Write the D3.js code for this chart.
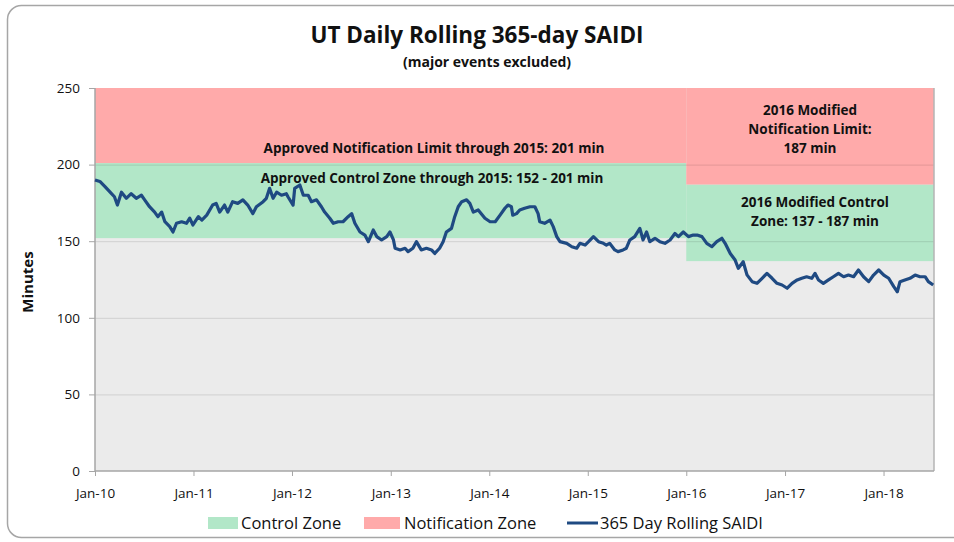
<html>
<head>
<script src="https://d3js.org/d3.v7.min.js"></script>
<style>
  body { margin: 0; background: #fff; }
  svg { display: block; }
  text { font-family: "Open Sans", sans-serif; fill: #111; }
</style>
</head>
<body>
<script>
// rolling 365-day SAIDI
var dates = ["2010-01-01","2010-01-19","2010-02-07","2010-02-26","2010-03-14","2010-03-25","2010-04-09","2010-04-27","2010-05-15","2010-06-03","2010-06-22","2010-07-04","2010-07-22","2010-08-10","2010-08-22","2010-09-05","2010-09-17","2010-10-05","2010-10-17","2010-10-30","2010-11-18","2010-12-06","2010-12-18","2010-12-30",
"2011-01-19","2011-02-01","2011-02-19","2011-03-13","2011-03-26","2011-04-08","2011-04-26","2011-05-08","2011-05-26","2011-06-14","2011-07-03","2011-07-21","2011-08-09","2011-08-22","2011-09-16","2011-09-28","2011-10-10","2011-10-23","2011-11-05","2011-11-23","2011-12-11","2011-12-17",
"2012-01-05","2012-01-11","2012-01-30","2012-02-12","2012-03-01","2012-03-13","2012-04-01","2012-04-19","2012-05-01","2012-05-20","2012-06-02","2012-06-20","2012-07-08","2012-07-27","2012-08-09","2012-08-21","2012-09-09","2012-09-27","2012-10-10","2012-10-28","2012-11-10","2012-11-28","2012-12-17","2012-12-29",
"2013-01-11","2013-01-17","2013-02-05","2013-02-23","2013-03-06","2013-03-24","2013-04-06","2013-04-24","2013-05-13","2013-06-01","2013-06-13","2013-07-01","2013-07-14","2013-07-26","2013-08-14","2013-08-26","2013-09-08","2013-09-21","2013-10-09","2013-10-21","2013-11-03","2013-11-21","2013-12-16",
"2014-01-04","2014-01-23","2014-02-10","2014-02-28","2014-03-11","2014-03-24","2014-03-29","2014-04-12","2014-04-24","2014-05-12","2014-06-01","2014-06-19","2014-07-01","2014-07-07","2014-07-25","2014-08-14","2014-08-26","2014-09-08","2014-09-20","2014-10-15","2014-11-03","2014-11-21","2014-12-03","2014-12-22",
"2015-01-04","2015-01-22","2015-02-10","2015-02-28","2015-03-11","2015-03-23","2015-04-11","2015-04-23","2015-05-12","2015-05-24","2015-06-06","2015-06-24","2015-07-13","2015-07-25","2015-08-07","2015-08-19","2015-09-07","2015-09-25","2015-10-14","2015-11-02","2015-11-20","2015-12-03","2015-12-21",
"2016-01-09","2016-01-27","2016-02-10","2016-02-28","2016-03-17","2016-04-05","2016-04-23","2016-05-12","2016-05-24","2016-06-12","2016-06-30","2016-07-12","2016-07-30","2016-08-13","2016-09-01","2016-09-19","2016-10-08","2016-10-26","2016-11-14","2016-12-02","2016-12-21",
"2017-01-09","2017-01-27","2017-02-15","2017-03-04","2017-03-22","2017-04-10","2017-04-22","2017-05-05","2017-05-23","2017-06-11","2017-06-29","2017-07-18","2017-08-06","2017-08-24","2017-09-12","2017-09-30","2017-10-19","2017-11-07","2017-11-25","2017-12-14",
"2018-01-02","2018-01-20","2018-02-08","2018-02-21","2018-03-03","2018-03-21","2018-04-09","2018-04-28","2018-05-16","2018-06-04","2018-06-16","2018-07-04"];
var saidi = [190,189,185.6,182,179,173.6,182,178,181,178,180,177,172.5,169,166,169,162.7,159.5,156,161.7,162.7,161.7,165,160.6,
166,163.8,167,173.6,174.7,169,173.6,169,175.8,174.7,177,173.6,168,172.5,175.8,178,184.5,178,182,180,181,179,
173.6,184.5,186.7,180,180,175.8,177,172.5,169,165,161.7,162.7,162.7,166,168,161.7,156,154,149.7,157.3,153,150.8,153,156,
150.8,145.4,144.3,145.4,143.2,145.4,149.7,144.3,145.4,144.3,142,145.4,149.7,156,158.4,166,172.5,175.8,177,174.7,169,170.4,165,
162.7,162.7,167,171.5,173.6,172.5,167,168,170.4,171.5,172.5,172.5,168,162.7,161.7,163.8,159.5,153,149.7,148.6,146.4,145.4,148.6,147.5,
149.7,153,149.7,148.6,147.5,148.6,144.3,143.2,144.3,145.4,150.8,153,158.4,150.8,156,149.7,151.9,149.7,148.6,150.8,155,153,156,
153,154,154,153,148.6,146.4,149.7,151.9,148.6,142,137.7,132.3,136.6,128,123.6,122.5,125.8,129,125.8,122.5,121.4,
119.3,122.5,124.7,125.8,126.8,125.8,129,124.7,122.5,124.7,126.8,129,126.8,127.9,126.8,131.2,126.8,123.6,127.9,131.2,
127.9,125.8,120.3,117,123.6,124.7,125.8,127.9,126.8,126.8,123.6,121.4];

// zones: [start, end, low, high]
var zoneStarts = ["2010-01-01", "2016-01-01"];
var zoneEnds = ["2016-01-01", "2018-07-07"];
var controlLow = [152, 137];
var controlHigh = [201, 187];
var notifLow = [201, 187];
var notifHigh = [250, 250];

var yTicks = [0, 50, 100, 150, 200, 250];
var xTickYears = [2010, 2011, 2012, 2013, 2014, 2015, 2016, 2017, 2018];

var W = 954, H = 542;
var margin = {left: 95, right: 20, top: 88, bottom: 71};
var parse = d3.timeParse("%Y-%m-%d");

var x = d3.scaleTime()
    .domain([parse("2010-01-01"), parse("2018-07-07")])
    .range([margin.left, W - margin.right]);
var y = d3.scaleLinear().domain([0, 250]).range([H - margin.bottom, margin.top]);

var svg = d3.select("body").append("svg").attr("width", W).attr("height", H);

// outer chart frame
svg.append("rect")
    .attr("x", 7.5).attr("y", 5.5).attr("width", 970).attr("height", 532)
    .attr("rx", 14).attr("fill", "#fff").attr("stroke", "#a6a6a6").attr("stroke-width", 1.5);

// plot background
svg.append("rect")
    .attr("x", x.range()[0]).attr("y", y(250))
    .attr("width", x.range()[1] - x.range()[0]).attr("height", y(0) - y(250))
    .attr("fill", "#ebebeb");

var zones = zoneStarts.map(function (d, i) {
    return {s: parse(d), e: parse(zoneEnds[i]), cl: controlLow[i], ch: controlHigh[i], nl: notifLow[i], nh: notifHigh[i]};
});

svg.selectAll(".ctrl").data(zones).enter().append("rect")
    .attr("x", function (d) { return x(d.s); })
    .attr("width", function (d) { return x(d.e) - x(d.s); })
    .attr("y", function (d) { return y(d.ch); })
    .attr("height", function (d) { return y(d.cl) - y(d.ch); })
    .attr("fill", "#b2e7c8");

svg.selectAll(".notif").data(zones).enter().append("rect")
    .attr("x", function (d) { return x(d.s); })
    .attr("width", function (d) { return x(d.e) - x(d.s); })
    .attr("y", function (d) { return y(d.nh); })
    .attr("height", function (d) { return y(d.nl) - y(d.nh); })
    .attr("fill", "#ffaaaa");

// gridlines
svg.selectAll(".grid").data(yTicks.slice(1, 5)).enter().append("line")
    .attr("x1", x.range()[0]).attr("x2", x.range()[1])
    .attr("y1", function (d) { return y(d) + 0.5; }).attr("y2", function (d) { return y(d) + 0.5; })
    .attr("stroke", "#000").attr("stroke-opacity", 0.09).attr("stroke-width", 1.2);

// plot border right
svg.append("path")
    .attr("d", "M" + x.range()[1] + "," + y(250) + "V" + y(0))
    .attr("stroke", "#b5b5b5").attr("stroke-width", 1.5).attr("fill", "none");

// axes
var yAxis = svg.append("g")
    .attr("transform", "translate(" + x.range()[0] + ",0)")
    .call(d3.axisLeft(y).tickValues(yTicks).tickSize(6).tickPadding(9));
var xAxis = svg.append("g")
    .attr("transform", "translate(0," + y(0) + ")")
    .call(d3.axisBottom(x)
        .tickValues(xTickYears.map(function (yr) { return new Date(yr, 0, 1); }))
        .tickFormat(d3.timeFormat("%b-%y")).tickSize(5).tickPadding(12));
[yAxis, xAxis].forEach(function (a) {
    a.select(".domain").attr("stroke", "#a6a6a6").attr("stroke-width", 1.5);
    a.selectAll(".tick line").attr("stroke", "#a6a6a6");
    a.selectAll("text").attr("font-size", 13.5).attr("fill", "#111")
        .attr("font-family", "'Open Sans', sans-serif");
});
yAxis.select(".domain").attr("d", "M0," + y(250) + "V" + y(0));
xAxis.select(".domain").attr("d", "M" + x.range()[0] + ",0H" + x.range()[1]);

// the line
var pts = dates.map(function (d, i) { return [parse(d), saidi[i]]; });
svg.append("path").datum(pts)
    .attr("fill", "none").attr("stroke", "#1f4a82").attr("stroke-width", 3.2)
    .attr("stroke-linejoin", "round")
    .attr("d", d3.line().x(function (d) { return x(d[0]); }).y(function (d) { return y(d[1]); }));

// titles
svg.append("text").attr("x", 477).attr("y", 43).attr("text-anchor", "middle")
    .attr("font-size", 22.5).attr("font-weight", "bold").text("UT Daily Rolling 365-day SAIDI");
svg.append("text").attr("x", 487).attr("y", 67).attr("text-anchor", "middle")
    .attr("font-size", 14).attr("font-weight", "bold").text("(major events excluded)");
svg.append("text").attr("transform", "translate(33,282) rotate(-90)").attr("text-anchor", "middle")
    .attr("font-size", 15).attr("font-weight", "bold").text("Minutes");

// annotations
var notes = [
    {x: 434, y: 153, lines: ["Approved Notification Limit through 2015:  201 min"]},
    {x: 432, y: 183, lines: ["Approved Control Zone through 2015: 152 - 201 min"]},
    {x: 810, y: 115, lines: ["2016 Modified", "Notification Limit:", "187 min"]},
    {x: 815, y: 207, lines: ["2016 Modified Control", "Zone: 137 - 187 min"]}
];
notes.forEach(function (n) {
    var t = svg.append("text").attr("text-anchor", "middle").attr("font-size", 13.5).attr("font-weight", "bold");
    n.lines.forEach(function (l, i) {
        t.append("tspan").attr("x", n.x).attr("y", n.y + i * 19).text(l);
    });
});

// legend
var leg = svg.append("g").attr("font-size", 16.5);
leg.append("rect").attr("x", 208).attr("y", 517).attr("width", 30).attr("height", 12).attr("fill", "#b2e7c8");
leg.append("text").attr("x", 241).attr("y", 529).text("Control Zone");
leg.append("rect").attr("x", 364).attr("y", 517).attr("width", 36).attr("height", 12).attr("fill", "#ffaaaa");
leg.append("text").attr("x", 404).attr("y", 529).text("Notification Zone");
leg.append("line").attr("x1", 567).attr("x2", 598).attr("y1", 523).attr("y2", 523)
    .attr("stroke", "#1f4a82").attr("stroke-width", 3);
leg.append("text").attr("x", 600).attr("y", 529).text("365 Day Rolling SAIDI");
</script>
</body>
</html>
